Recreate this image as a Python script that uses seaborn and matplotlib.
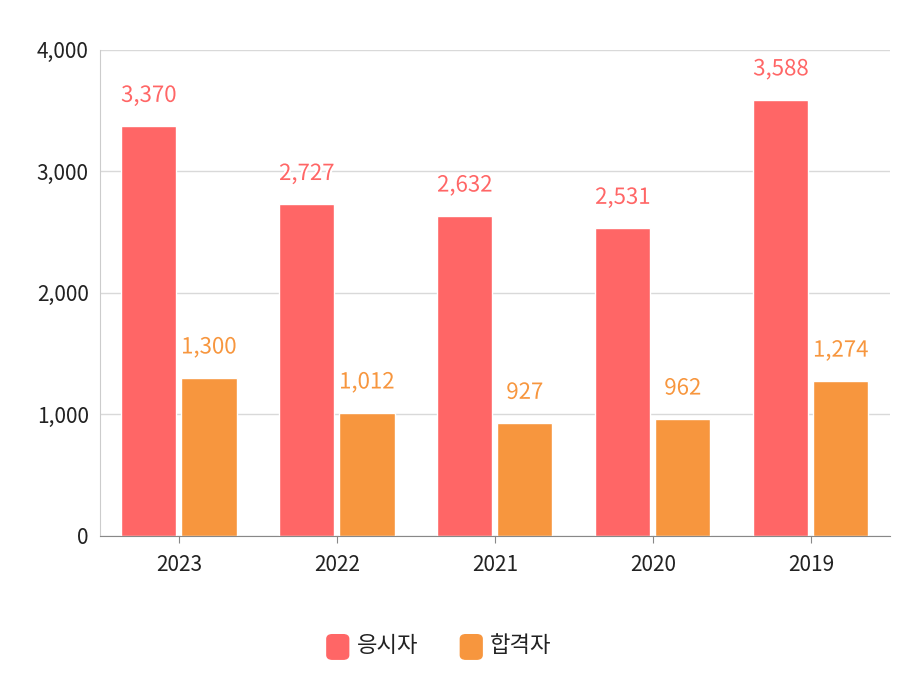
import matplotlib
matplotlib.use("Agg")
import matplotlib.pyplot as plt
import matplotlib.patheffects as pe
from matplotlib.patches import FancyBboxPatch
import seaborn as sns
import pandas as pd

years = ["2023", "2022", "2021", "2020", "2019"]
applicants = [3370, 2727, 2632, 2531, 3588]
passers = [1300, 1012, 927, 962, 1274]
series = ["응시자", "합격자"]
colors = ["#ff6666", "#f7963e"]

plt.rcParams["font.family"] = ["Noto Sans CJK JP", "Noto Sans CJK KR", "Noto Sans CJK SC", "DejaVu Sans"]
df = pd.DataFrame({
    "year": years * 2,
    "value": applicants + passers,
    "series": [series[0]] * 5 + [series[1]] * 5,
})

fig = plt.figure(figsize=(9.08, 6.81), dpi=100)
ax = fig.add_axes([0.110, 0.213, 0.870, 0.714])
sns.barplot(data=df, x="year", y="value", hue="series", palette=colors,
            width=0.76, gap=0.08, ax=ax, legend=False, saturation=1)
ax.set_ylim(0, 4000)
ax.set_yticks([0, 1000, 2000, 3000, 4000])
ax.set_yticklabels(["0", "1,000", "2,000", "3,000", "4,000"])
ax.set_xlabel(""); ax.set_ylabel("")
ax.grid(axis="y", color="#d9d9d9", linewidth=1)
ax.set_axisbelow(True)
for s in ["top", "right"]:
    ax.spines[s].set_visible(False)
ax.spines["left"].set_color("#cccccc")
ax.spines["bottom"].set_color("#888888")
ax.tick_params(axis="both", labelsize=15, length=0, pad=8, colors="#222222")
ax.tick_params(axis="x", length=5, color="#888888")
for cont, col in zip(ax.containers, colors):
    for p in cont:
        p.set_edgecolor("white"); p.set_linewidth(1)
    labels = ax.bar_label(cont, labels=[f"{int(v.get_height()):,}" for v in cont],
                          padding=14, fontsize=16, color=col)
    for t in labels:
        t.set_path_effects([pe.withStroke(linewidth=3, foreground="white")])

for i, (name, col) in enumerate(zip(series, colors)):
    x0 = 0.36 + i * 0.147
    fig.patches.append(FancyBboxPatch((x0, 0.032), 0.024, 0.036,
                       boxstyle="round,pad=0,rounding_size=0.006",
                       transform=fig.transFigure, color=col))
    fig.text(x0 + 0.033, 0.052, name, fontsize=16, va="center", color="#222222")
fig.savefig("out.png", dpi=100)
